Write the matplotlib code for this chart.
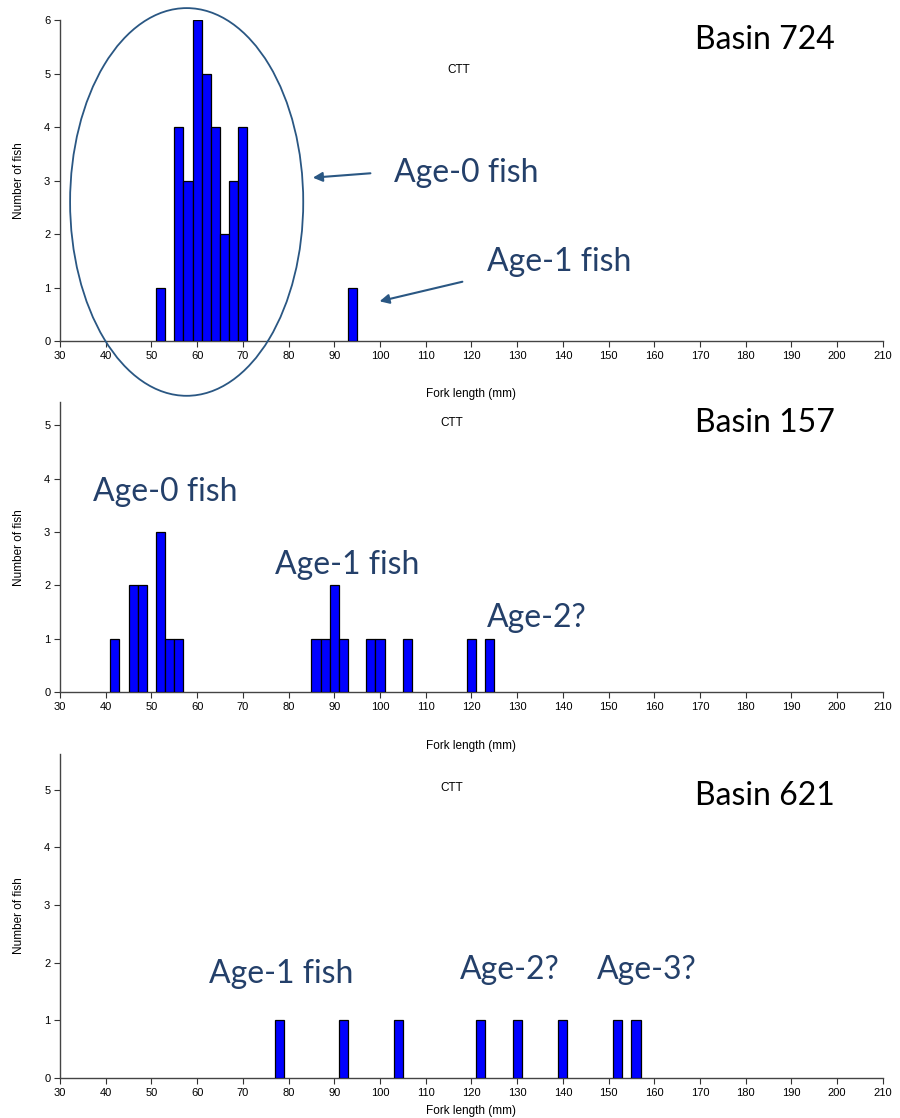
import matplotlib.pyplot as plt
from matplotlib.patches import Ellipse

plt.rcParams['font.family'] = ['Liberation Sans', 'DejaVu Sans']

# fork length bin centres (2 mm bins) and fish counts
len_724 = [52, 56, 58, 60, 62, 64, 66, 68, 70, 94]
cnt_724 = [1, 4, 3, 6, 5, 4, 2, 3, 4, 1]

len_157 = [42, 46, 48, 52, 54, 56, 86, 88, 90, 92, 98, 100, 106, 120, 124]
cnt_157 = [1, 2, 2, 3, 1, 1, 1, 1, 2, 1, 1, 1, 1, 1, 1]

len_621 = [78, 92, 104, 122, 130, 140, 152, 156]
cnt_621 = [1, 1, 1, 1, 1, 1, 1, 1]

basins = ['Basin 724', 'Basin 157', 'Basin 621']
ymax = [6, 5.43, 5.63]
xlab_pad = [20, 20, 5]

ann_col = '#24406A'
line_col = '#2A5783'
big = dict(family=['Lato', 'DejaVu Sans'], fontsize=23, ha='center', va='center')

fig = plt.figure(figsize=(9, 11.18), dpi=100)
boxes = [[0.0667, 0.695, 0.9143, 0.287],
         [0.0667, 0.381, 0.9143, 0.259],
         [0.0667, 0.0358, 0.9143, 0.2902]]
data = [(len_724, cnt_724), (len_157, cnt_157), (len_621, cnt_621)]
axes = []
for i, (box, (x, y)) in enumerate(zip(boxes, data)):
    ax = fig.add_axes(box)
    ax.bar(x, y, width=2, color='#0000FF', edgecolor='black', linewidth=0.9, zorder=3)
    ax.set_xlim(30, 210)
    ax.set_ylim(0, ymax[i])
    ax.set_xticks(range(30, 211, 10))
    ax.set_yticks(range(0, int(ymax[i]) + 1))
    ax.tick_params(labelsize=8, length=4, width=0.8, color='#333333', pad=3)
    for s in ['top', 'right']:
        ax.spines[s].set_visible(False)
    for s in ['left', 'bottom']:
        ax.spines[s].set_color('#444444')
        ax.spines[s].set_linewidth(1.0)
    ax.set_xlabel('Fork length (mm)', fontsize=8.5, labelpad=xlab_pad[i])
    ax.set_ylabel('Number of fish', fontsize=8.5, labelpad=14)
    axes.append(ax)

ax1, ax2, ax3 = axes

# panel 1
ax1.text(184.2, 5.63, basins[0], color='black', **big)
ax1.text(117.3, 5.07, 'CTT', fontsize=8.5, ha='center', va='center')
ax1.text(118.8, 3.14, 'Age-0 fish', color=ann_col, **big)
ax1.text(139.1, 1.48, 'Age-1 fish', color=ann_col, **big)
ax1.add_patch(Ellipse((57.7, 2.6), 51, 7.25, fill=False, edgecolor=line_col,
                      linewidth=1.3, clip_on=False, zorder=4))
ax1.annotate('', xy=(84.7, 3.05), xytext=(98.5, 3.14), annotation_clip=False,
             arrowprops=dict(arrowstyle='-|>', color=line_col, lw=1.5, mutation_scale=14))
ax1.annotate('', xy=(99.3, 0.73), xytext=(118.6, 1.12), annotation_clip=False,
             arrowprops=dict(arrowstyle='-|>', color=line_col, lw=1.5, mutation_scale=14))

# panel 2
ax2.text(184.2, 5.04, basins[1], color='black', **big)
ax2.text(115.7, 5.04, 'CTT', fontsize=8.5, ha='center', va='center')
ax2.text(53.0, 3.75, 'Age-0 fish', color=ann_col, **big)
ax2.text(92.8, 2.38, 'Age-1 fish', color=ann_col, **big)
ax2.text(134.3, 1.39, 'Age-2?', color=ann_col, **big)

# panel 3
ax3.text(184.2, 4.89, basins[2], color='black', **big)
ax3.text(115.7, 5.04, 'CTT', fontsize=8.5, ha='center', va='center')
ax3.text(78.3, 1.80, 'Age-1 fish', color=ann_col, **big)
ax3.text(128.4, 1.87, 'Age-2?', color=ann_col, **big)
ax3.text(158.4, 1.87, 'Age-3?', color=ann_col, **big)

fig.savefig('out.png', dpi=100)
